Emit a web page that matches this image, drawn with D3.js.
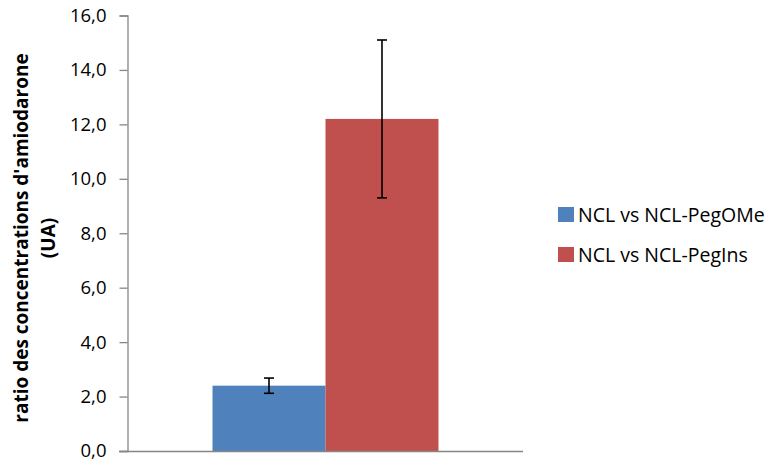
<!DOCTYPE html>
<html><head><meta charset="utf-8">
<script src="https://cdn.jsdelivr.net/npm/d3@7"></script>
<style>body{margin:0;background:#fff;overflow:hidden}svg{display:block}</style>
</head><body>
<script>
const categories = [""];
const seriesNames = ["NCL vs NCL-PegOMe", "NCL vs NCL-PegIns"];
const seriesColors = ["#4F81BD", "#C0504D"];
const values = [2.4, 12.2];
const errors = [0.28, 2.9];
const yTicks = [0, 2, 4, 6, 8, 10, 12, 14, 16];
const yTitle = ["ratio des concentrations d'amiodarone", "(UA)"];

const W = 765, H = 466;
const font = "'Open Sans', Lato, sans-serif";
const svg = d3.select("body").append("svg").attr("width", W).attr("height", H);

const y = d3.scaleLinear().domain([0, 16]).range([451, 15.5]);
const x0 = d3.scaleBand().domain(categories).range([128, 523]).paddingInner(0).paddingOuter(0.374);
const x1 = d3.scaleBand().domain(seriesNames).range([0, x0.bandwidth()]);

const data = seriesNames.map((s, i) => ({s, v: values[i], e: errors[i], c: seriesColors[i], cat: categories[0]}));

// bars
svg.append("g").selectAll("rect").data(data).join("rect")
  .attr("x", d => x0(d.cat) + x1(d.s))
  .attr("width", x1.bandwidth())
  .attr("y", d => y(d.v))
  .attr("height", d => y(0) - y(d.v))
  .attr("fill", d => d.c);

// axes
const yAxis = svg.append("g").attr("transform", "translate(127.5,0)")
  .call(d3.axisLeft(y).tickValues(yTicks).tickSize(8).tickPadding(13)
    .tickFormat(d => d3.format(".1f")(d).replace(".", ",")));
yAxis.select(".domain").attr("stroke", "#868686").attr("stroke-width", 1.3);
yAxis.selectAll(".tick line").attr("stroke", "#868686").attr("stroke-width", 1.3);
yAxis.selectAll(".tick text").attr("font-family", font).attr("font-size", 18.5).attr("fill", "#000");

svg.append("line").attr("x1", 119).attr("x2", 523).attr("y1", y(0) + 0.5).attr("y2", y(0) + 0.5)
  .attr("stroke", "#868686").attr("stroke-width", 1.5);

// error bars
const eb = svg.append("g").selectAll("g").data(data).join("g")
  .attr("stroke", "#000").attr("stroke-width", 1.6);
eb.append("line")
  .attr("x1", d => x0(d.cat) + x1(d.s) + x1.bandwidth() / 2)
  .attr("x2", d => x0(d.cat) + x1(d.s) + x1.bandwidth() / 2)
  .attr("y1", d => y(d.v + d.e)).attr("y2", d => y(d.v - d.e));
eb.selectAll("line.cap").data(d => [[d, d.v + d.e], [d, d.v - d.e]]).join("line").attr("class", "cap")
  .attr("x1", ([d]) => x0(d.cat) + x1(d.s) + x1.bandwidth() / 2 - 5)
  .attr("x2", ([d]) => x0(d.cat) + x1(d.s) + x1.bandwidth() / 2 + 5)
  .attr("y1", ([, v]) => y(v)).attr("y2", ([, v]) => y(v));

// y title
const tg = svg.append("g").attr("transform", "translate(0,238) rotate(-90)");
tg.selectAll("text").data(yTitle).join("text")
  .attr("x", 0).attr("y", (d, i) => 28 + i * 27)
  .attr("text-anchor", "middle")
  .attr("font-family", font).attr("font-weight", "bold").attr("font-size", 19)
  .text(d => d);

// legend
const lg = svg.append("g").selectAll("g").data(data).join("g")
  .attr("transform", (d, i) => `translate(558,${207 + i * 40})`);
lg.append("rect").attr("width", 16).attr("height", 15).attr("fill", d => d.c);
lg.append("text").attr("x", 20).attr("y", 15)
  .attr("font-family", font).attr("font-size", 19.5).attr("fill", "#000")
  .text(d => d.s);
</script>
</body></html>
